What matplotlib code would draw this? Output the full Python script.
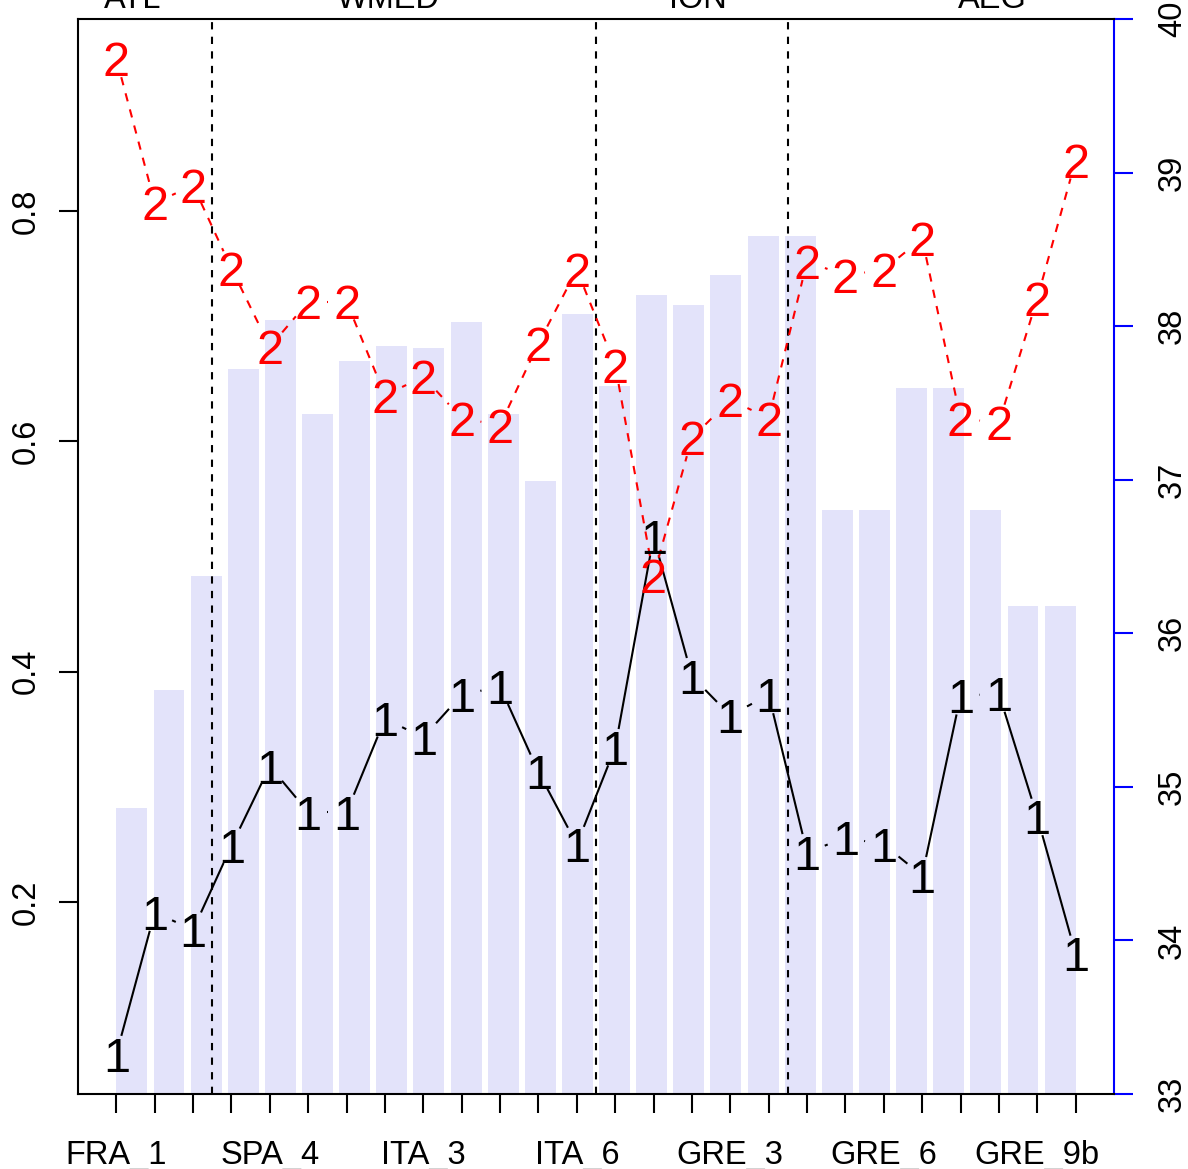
import numpy as np
import matplotlib.pyplot as plt

plt.rcParams['font.family'] = ['Liberation Sans', 'DejaVu Sans']

# data
site_ticks = list(range(1, 27))
shown_labels = ['FRA_1', 'SPA_4', 'ITA_3', 'ITA_6', 'GRE_3', 'GRE_6', 'GRE_9b']
shown_every = 4

bar_values = [34.86, 35.63, 36.37, 37.72, 38.04, 37.43, 37.77, 37.87, 37.86, 38.03,
              37.43, 36.99, 38.08, 37.61, 38.20, 38.14, 38.33, 38.59, 38.59, 36.80,
              36.80, 37.60, 37.60, 36.80, 36.18, 36.18]
series1 = [0.068, 0.191, 0.176, 0.249, 0.318, 0.278, 0.278, 0.359, 0.343, 0.380,
           0.387, 0.313, 0.250, 0.334, 0.517, 0.396, 0.362, 0.380, 0.243, 0.256,
           0.250, 0.223, 0.379, 0.381, 0.274, 0.155]
series2 = [0.932, 0.807, 0.822, 0.750, 0.682, 0.721, 0.721, 0.640, 0.656, 0.620,
           0.614, 0.685, 0.749, 0.666, 0.483, 0.603, 0.636, 0.620, 0.756, 0.744,
           0.749, 0.776, 0.620, 0.616, 0.724, 0.844]

region_names = ['ATL', 'WMED', 'ION', 'AEG']
region_breaks = [3.5, 13.5, 18.5]

right_ticks = list(range(33, 41))
left_ticks = [0.2, 0.4, 0.6, 0.8]

FS = 23.5      # axis text
PCH = 35       # the "1" / "2" point characters
LW = 1.5

fig = plt.figure(figsize=(11.88, 11.69), dpi=100)
rect = [78 / 1188, 75 / 1169, 1036 / 1188, 1075 / 1169]

# bars, in their own (barplot-like) coordinate system, right axis
axb = fig.add_axes(rect)
n = len(bar_values)
bar_left = [0.2 + 1.2 * i for i in range(n)]
axb.bar(bar_left, [v - 33 for v in bar_values], bottom=33, width=1.0,
        align='edge', color='#E3E3FA', edgecolor='none')
span = bar_left[-1] + 1.0 - bar_left[0]
axb.set_xlim(bar_left[0] - 0.04 * span, bar_left[-1] + 1.0 + 0.04 * span)
axb.set_ylim(33, 40)
axb.set_xticks([])
axb.yaxis.tick_right()
axb.set_yticks(right_ticks)
axb.set_yticklabels([str(t) for t in right_ticks], rotation=90, va='center',
                    fontsize=FS)
axb.tick_params(axis='y', colors='blue', labelcolor='black', length=14,
                width=LW, pad=17)
for s in ['left', 'top', 'bottom']:
    axb.spines[s].set_visible(False)
axb.spines['right'].set_color('blue')
axb.spines['right'].set_linewidth(LW)

# lines on the left axis
ax = fig.add_axes(rect, facecolor='none')
x = np.array(site_ticks)
ax.set_xlim(x[0] - 0.04 * (x[-1] - x[0]), x[-1] + 0.04 * (x[-1] - x[0]))
lo = min(min(series1), min(series2))
hi = max(max(series1), max(series2))
ax.set_ylim(lo - 0.04 * (hi - lo), hi + 0.04 * (hi - lo))
ax.spines['right'].set_visible(False)
for s in ['left', 'top', 'bottom']:
    ax.spines[s].set_linewidth(LW)

ax.set_xticks(site_ticks)
ax.set_xticklabels([shown_labels[i // shown_every] if i % shown_every == 0 else ''
                    for i in range(len(site_ticks))], fontsize=FS)
ax.set_yticks(left_ticks)
ax.set_yticklabels([f'{t:g}' for t in left_ticks], rotation=90, va='center',
                   fontsize=FS)
ax.tick_params(axis='x', length=14, width=LW, pad=19)
ax.tick_params(axis='y', length=14, width=LW, pad=12)

for b in region_breaks:
    ax.axvline(b, color='black', lw=LW, ls=(0, (3.5, 3.5)))

# region labels above the box (centres)
region_x = [1.42, 8.08, 16.16, 23.82]
for name, rx in zip(region_names, region_x):
    ax.text(rx, 1 + 11 / 1075, name, transform=ax.get_xaxis_transform(),
            ha='center', va='baseline', fontsize=FS, clip_on=False)


def gapped_line(ax, xs, ys, gap, **kw):
    # R type="b": segments stop short of each point
    pts = ax.transData.transform(np.column_stack([xs, ys]))
    inv = ax.transData.inverted()
    for p0, p1 in zip(pts[:-1], pts[1:]):
        d = p1 - p0
        length = np.hypot(d[0], d[1])
        if length <= 2 * gap:
            continue
        u = d / length
        a = inv.transform(p0 + u * gap)
        b = inv.transform(p1 - u * gap)
        ax.plot([a[0], b[0]], [a[1], b[1]], **kw)


def point_chars(ax, xs, ys, ch, color):
    for xi, yi in zip(xs, ys):
        ax.annotate(ch, (xi, yi), xytext=(0, -0.358 * PCH), textcoords='offset points',
                    ha='center', va='baseline', fontsize=PCH, color=color)


gapped_line(ax, x, series1, 19, color='black', lw=LW, solid_capstyle='butt')
point_chars(ax, x, series1, '1', 'black')
gapped_line(ax, x, series2, 19, color='red', lw=LW, ls=(0, (4, 4)))
point_chars(ax, x, series2, '2', 'red')

fig.savefig('out.png', dpi=100)
